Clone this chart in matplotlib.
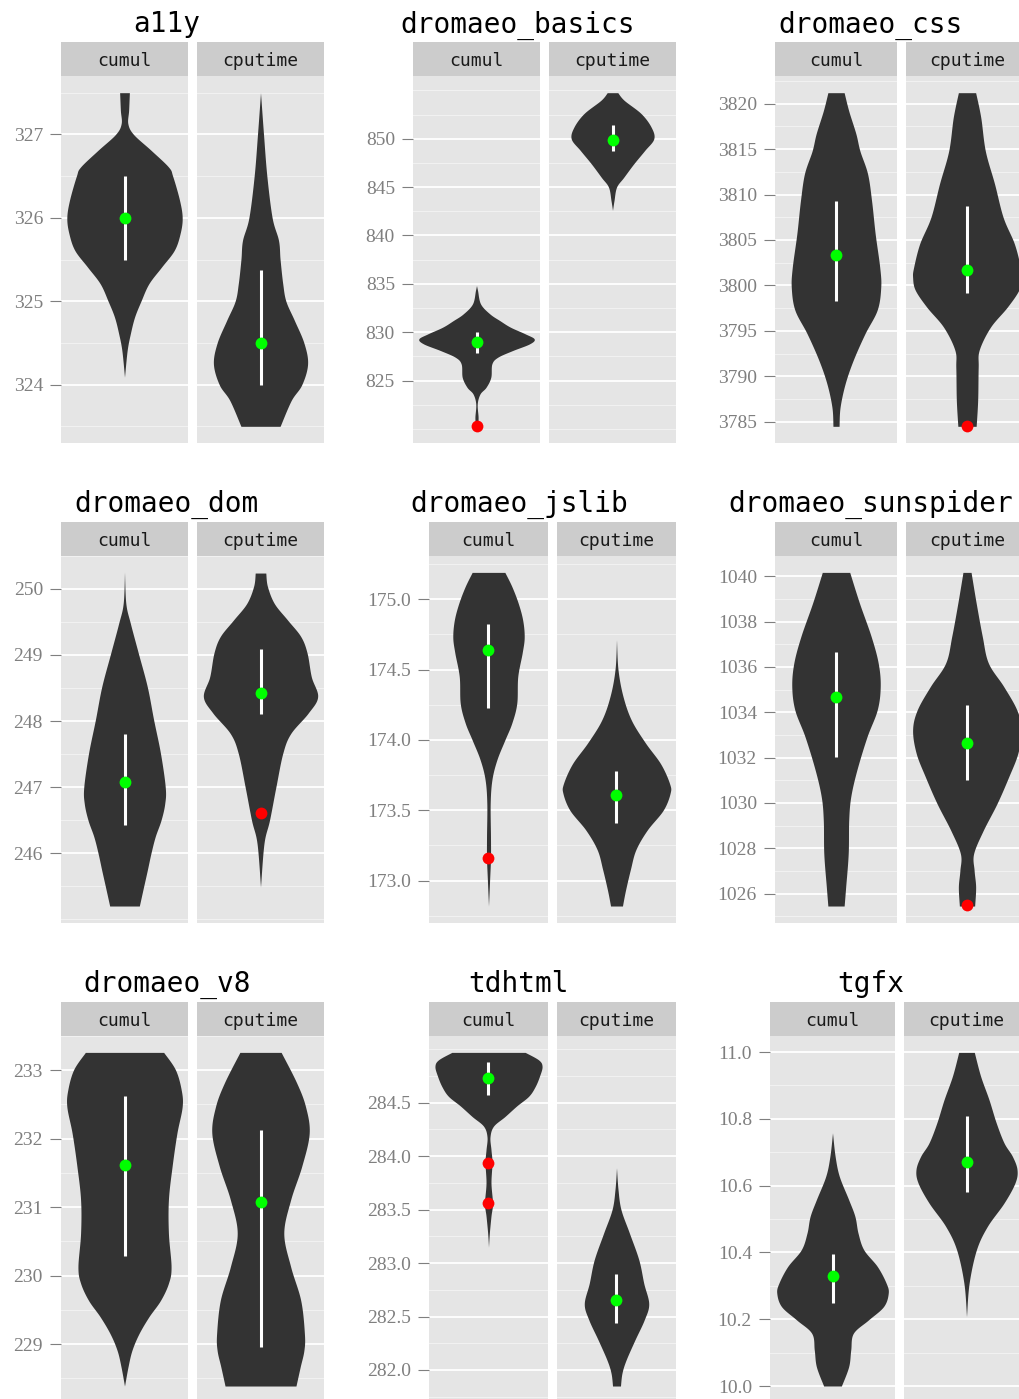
import numpy as np
import matplotlib
matplotlib.use("Agg")
import matplotlib.pyplot as plt

benchmarks = ["a11y", "dromaeo_basics", "dromaeo_css", "dromaeo_dom", "dromaeo_jslib",
              "dromaeo_sunspider", "dromaeo_v8", "tdhtml", "tgfx"]
metrics = ["cumul", "cputime"]

# ---- violin outlines: value levels and full violin width (category units) ----
a11y_cumul_y = [327.5, 327.29, 327.13, 327.0, 326.81, 326.61, 326.5, 326.21, 326.0, 325.81,
                325.61, 325.41, 325.21, 325.0, 324.81, 324.61, 324.41, 324.09]
a11y_cumul_w = [0.092, 0.078, 0.063, 0.17, 0.50, 0.83, 0.91, 1.04, 1.09, 1.05,
                0.94, 0.70, 0.46, 0.31, 0.19, 0.11, 0.05, 0.0]
a11y_cputime_y = [327.5, 327.0, 326.5, 326.0, 325.73, 325.5, 325.21, 325.0, 324.77, 324.5,
                  324.25, 324.0, 323.81, 323.5]
a11y_cputime_w = [0.0, 0.057, 0.12, 0.22, 0.34, 0.37, 0.42, 0.48, 0.64, 0.82,
                  0.89, 0.78, 0.58, 0.37]

basics_cumul_y = [834.83, 834.31, 832.93, 831.9, 831.2, 830.52, 829.83, 829.31, 828.79, 828.1,
                  827.41, 826.72, 825.34, 824.31, 823.62, 822.59, 821.21, 820.28]
basics_cumul_w = [0.0, 0.02, 0.076, 0.25, 0.44, 0.64, 0.92, 1.09, 1.0, 0.68,
                  0.40, 0.29, 0.27, 0.18, 0.066, 0.014, 0.03, 0.02]
basics_cputime_y = [854.76, 853.97, 852.6, 851.2, 850.0, 848.8, 847.4, 846.0, 845.0, 843.6, 842.6]
basics_cputime_w = [0.10, 0.22, 0.54, 0.73, 0.78, 0.61, 0.40, 0.21, 0.076, 0.028, 0.0]

css_cumul_y = [3821.2, 3819.2, 3816.7, 3814.8, 3812.3, 3809.3, 3805.7, 3802.0, 3799.8, 3797.3,
               3794.7, 3791.8, 3789.2, 3786.6, 3784.5]
css_cumul_w = [0.16, 0.25, 0.39, 0.47, 0.62, 0.70, 0.77, 0.86, 0.88, 0.81,
               0.57, 0.34, 0.18, 0.08, 0.06]
css_cputime_y = [3821.2, 3818.5, 3814.8, 3811.2, 3807.5, 3804.6, 3802.0, 3800.9, 3799.5, 3797.6,
                 3795.4, 3792.9, 3791.0, 3787.4, 3784.5]
css_cputime_w = [0.17, 0.27, 0.36, 0.54, 0.71, 0.93, 1.05, 1.07, 1.02, 0.79,
                 0.46, 0.24, 0.22, 0.21, 0.18]

dom_cumul_y = [250.25, 249.78, 249.48, 249.03, 248.52, 248.02, 247.51, 247.0, 246.75, 246.5,
               246.25, 246.0, 245.74, 245.49, 245.2]
dom_cumul_w = [0.0, 0.025, 0.11, 0.26, 0.43, 0.55, 0.68, 0.77, 0.76, 0.69,
               0.58, 0.50, 0.43, 0.36, 0.28]
dom_cputime_y = [250.24, 250.04, 249.78, 249.53, 249.28, 249.03, 248.67, 248.37, 248.12, 247.81,
                 247.51, 247.0, 246.5, 246.15, 245.49]
dom_cputime_w = [0.10, 0.13, 0.26, 0.51, 0.76, 0.88, 0.96, 1.08, 0.90, 0.57,
                 0.42, 0.29, 0.17, 0.066, 0.0]

jslib_cumul_y = [175.19, 175.09, 174.97, 174.85, 174.73, 174.62, 174.45, 174.26, 174.12, 174.0,
                 173.86, 173.72, 173.55, 173.31, 173.16, 173.01, 172.82]
jslib_cumul_w = [0.33, 0.47, 0.60, 0.69, 0.72, 0.68, 0.59, 0.57, 0.47, 0.33,
                 0.17, 0.07, 0.034, 0.04, 0.04, 0.023, 0.0]
jslib_cputime_y = [174.71, 174.50, 174.31, 174.14, 173.98, 173.83, 173.69, 173.62, 173.50, 173.36,
                   173.22, 173.08, 172.93, 172.82]
jslib_cputime_w = [0.0, 0.03, 0.13, 0.30, 0.58, 0.89, 1.07, 1.08, 0.94, 0.62,
                   0.39, 0.28, 0.18, 0.12]

sunspider_cumul_y = [1040.17, 1038.82, 1037.35, 1036.17, 1035.14, 1034.1, 1032.92, 1031.45,
                     1030.27, 1029.24, 1027.76, 1026.29, 1025.45]
sunspider_cumul_w = [0.27, 0.46, 0.69, 0.83, 0.87, 0.81, 0.61, 0.41,
                     0.29, 0.25, 0.24, 0.19, 0.16]
sunspider_cputime_y = [1040.17, 1038.82, 1037.35, 1036.17, 1035.14, 1034.1, 1033.22, 1032.19,
                       1031.15, 1029.97, 1028.79, 1027.76, 1027.02, 1026.29, 1025.45]
sunspider_cputime_w = [0.08, 0.18, 0.30, 0.42, 0.72, 0.98, 1.07, 1.00,
                       0.82, 0.59, 0.32, 0.13, 0.14, 0.17, 0.15]

v8_cumul_y = [233.26, 233.01, 232.72, 232.47, 232.08, 231.6, 231.11, 230.62, 230.13, 229.89,
              229.64, 229.4, 229.15, 228.91, 228.67, 228.39]
v8_cumul_w = [0.74, 0.96, 1.07, 1.09, 0.99, 0.90, 0.83, 0.83, 0.88, 0.83,
              0.68, 0.46, 0.27, 0.14, 0.066, 0.0]
v8_cputime_y = [233.26, 232.82, 232.47, 232.08, 231.6, 231.11, 230.62, 230.13, 229.64, 229.15,
                228.91, 228.67, 228.39]
v8_cputime_w = [0.39, 0.68, 0.85, 0.92, 0.78, 0.57, 0.44, 0.57, 0.76, 0.83,
                0.82, 0.75, 0.67]

tdhtml_cumul_y = [284.97, 284.9, 284.84, 284.75, 284.65, 284.56, 284.47, 284.37, 284.28, 284.18,
                  284.06, 283.94, 283.75, 283.56, 283.44, 283.28, 283.15]
tdhtml_cumul_w = [0.74, 1.01, 1.08, 1.03, 0.94, 0.81, 0.57, 0.33, 0.10, 0.03,
                  0.05, 0.07, 0.05, 0.08, 0.05, 0.017, 0.0]
tdhtml_cputime_y = [283.89, 283.69, 283.5, 283.28, 283.03, 282.81, 282.62, 282.47, 282.28, 282.09,
                    281.97, 281.85]
tdhtml_cputime_w = [0.0, 0.03, 0.09, 0.26, 0.45, 0.55, 0.65, 0.56, 0.37, 0.19, 0.11, 0.08]

tgfx_cumul_y = [10.758, 10.688, 10.628, 10.558, 10.508, 10.458, 10.408, 10.358, 10.308, 10.278,
                10.238, 10.198, 10.158, 10.108, 10.058, 10.0]
tgfx_cumul_w = [0.0, 0.05, 0.13, 0.31, 0.43, 0.49, 0.60, 0.86, 1.03, 1.07,
                0.98, 0.69, 0.40, 0.35, 0.31, 0.17]
tgfx_cputime_y = [10.999, 10.928, 10.858, 10.788, 10.728, 10.688, 10.648, 10.608, 10.548, 10.478,
                  10.408, 10.308, 10.208]
tgfx_cputime_w = [0.15, 0.27, 0.43, 0.57, 0.72, 0.88, 0.97, 0.93, 0.72, 0.40, 0.19, 0.05, 0.0]

# ---- summary marks ----
cumul_mid = [326.0, 829.03, 3803.4, 247.08, 174.64, 1034.65, 231.62, 284.73, 10.328]
cumul_lo = [325.5, 827.83, 3798.3, 246.43, 174.23, 1032.04, 230.29, 284.57, 10.25]
cumul_hi = [326.5, 830.0, 3809.3, 247.81, 174.82, 1036.65, 232.62, 284.88, 10.396]
cputime_mid = [324.5, 849.9, 3801.7, 248.42, 173.61, 1032.63, 231.07, 282.65, 10.67]
cputime_lo = [324.0, 848.7, 3799.2, 248.11, 173.41, 1031.0, 228.96, 282.44, 10.58]
cputime_hi = [325.38, 851.4, 3808.7, 249.09, 173.78, 1034.31, 232.13, 282.9, 10.81]
cumul_outliers = [[], [820.27], [], [], [173.16], [], [], [283.94, 283.56], []]
cputime_outliers = [[], [], [3784.5], [246.61], [], [1025.48], [], [], []]

# ---- y tick labels ----
ticks_a11y = ["324", "325", "326", "327"]
ticks_basics = ["825", "830", "835", "840", "845", "850"]
ticks_css = ["3785", "3790", "3795", "3800", "3805", "3810", "3815", "3820"]
ticks_dom = ["246", "247", "248", "249", "250"]
ticks_jslib = ["173.0", "173.5", "174.0", "174.5", "175.0"]
ticks_sunspider = ["1026", "1028", "1030", "1032", "1034", "1036", "1038", "1040"]
ticks_v8 = ["229", "230", "231", "232", "233"]
ticks_tdhtml = ["282.0", "282.5", "283.0", "283.5", "284.0", "284.5"]
ticks_tgfx = ["10.0", "10.2", "10.4", "10.6", "10.8", "11.0"]

profiles = [
    [(a11y_cumul_y, a11y_cumul_w), (a11y_cputime_y, a11y_cputime_w)],
    [(basics_cumul_y, basics_cumul_w), (basics_cputime_y, basics_cputime_w)],
    [(css_cumul_y, css_cumul_w), (css_cputime_y, css_cputime_w)],
    [(dom_cumul_y, dom_cumul_w), (dom_cputime_y, dom_cputime_w)],
    [(jslib_cumul_y, jslib_cumul_w), (jslib_cputime_y, jslib_cputime_w)],
    [(sunspider_cumul_y, sunspider_cumul_w), (sunspider_cputime_y, sunspider_cputime_w)],
    [(v8_cumul_y, v8_cumul_w), (v8_cputime_y, v8_cputime_w)],
    [(tdhtml_cumul_y, tdhtml_cumul_w), (tdhtml_cputime_y, tdhtml_cputime_w)],
    [(tgfx_cumul_y, tgfx_cumul_w), (tgfx_cputime_y, tgfx_cputime_w)],
]
tick_labels = [ticks_a11y, ticks_basics, ticks_css, ticks_dom, ticks_jslib,
               ticks_sunspider, ticks_v8, ticks_tdhtml, ticks_tgfx]
mids = [cumul_mid, cputime_mid]
los = [cumul_lo, cputime_lo]
his = [cumul_hi, cputime_hi]
outs = [cumul_outliers, cputime_outliers]


def smooth_outline(y, w, n=14):
    pts = np.column_stack([y, w]).astype(float)
    pts = pts[np.argsort(pts[:, 0])]
    P = np.vstack([pts[0], pts, pts[-1]])
    t = np.linspace(0, 1, n, endpoint=False)[:, None]
    out = []
    for i in range(1, len(P) - 2):
        p0, p1, p2, p3 = P[i - 1], P[i], P[i + 1], P[i + 2]
        c = 0.5 * (2 * p1 + (-p0 + p2) * t + (2 * p0 - 5 * p1 + 4 * p2 - p3) * t ** 2
                   + (-p0 + 3 * p1 - 3 * p2 + p3) * t ** 3)
        out.append(c)
    out.append(P[-2][None, :])
    res = np.vstack(out)
    res[:, 1] = np.clip(res[:, 1], 0, None)
    return res[:, 0], res[:, 1]


W, H = 1019, 1399
fig = plt.figure(figsize=(W / 100, H / 100), dpi=100)
fig.patch.set_facecolor("white")


def px_axes(x, y_top, w, h):
    return fig.add_axes([x / W, 1 - (y_top + h) / H, w / W, h / H])


strip_tops = [42, 521.7, 1001.7]
strip_h = 34
panel_h = 367
panel_cols = [(61, 127), (413, 127), (775, 122), (61, 127), (429, 119), (775, 122),
              (61, 127), (429, 119), (770, 125)]
title_x = [167, 518, 870, 167, 519, 871, 167, 518, 871]
gap = 9

GREY_TXT = "#7F7F7F"
mono = "DejaVu Sans Mono"
serif = "Liberation Serif"

for i, bench in enumerate(benchmarks):
    r = i // 3
    st = strip_tops[r]
    L, pw = panel_cols[i]
    labels = tick_labels[i]
    tvals = [float(s) for s in labels]
    step = tvals[1] - tvals[0]

    allv = []
    for (yy, ww) in profiles[i]:
        allv += list(yy)
    for o in outs:
        allv += list(o[i])
    dmin, dmax = min(allv), max(allv)
    ext = (dmax - dmin) * 0.05
    ylo, yhi = dmin - ext, dmax + ext

    fig.text(title_x[i] / W, 1 - (st - 9.5) / H, bench, ha="center", va="baseline",
             fontsize=20, family=mono, color="black")

    half = step / 2
    k0 = np.floor((ylo - tvals[0]) / half)
    k1 = np.ceil((yhi - tvals[0]) / half)
    lines = tvals[0] + np.arange(k0, k1 + 1) * half
    lines = [v for v in lines if ylo <= v <= yhi]

    for j, metric in enumerate(metrics):
        left = L + j * (pw + gap)
        sax = px_axes(left, st, pw, strip_h)
        sax.set_facecolor("#CCCCCC")
        sax.set_xticks([]); sax.set_yticks([])
        for s in sax.spines.values():
            s.set_visible(False)
        sax.text(0.5, 10 / strip_h, metric, ha="center", va="baseline",
                 transform=sax.transAxes, fontsize=13, family=mono, color="#1A1A1A")

        ax = px_axes(left, st + strip_h, pw, panel_h)
        ax.set_facecolor("#E5E5E5")
        for s in ax.spines.values():
            s.set_visible(False)
        ax.set_xlim(0.4, 1.6)
        ax.set_ylim(ylo, yhi)
        ax.set_xticks([])

        for v in lines:
            is_major = any(abs(v - tv) < 1e-6 for tv in tvals)
            if is_major:
                ax.axhline(v, color="white", lw=1.3, zorder=0.6)
            else:
                ax.axhline(v, color="#F2F2F2", lw=0.7, zorder=0.5)

        yy, ww = profiles[i][j]
        sy, sw = smooth_outline(yy, ww)
        ax.fill_betweenx(sy, 1 - sw / 2, 1 + sw / 2, color="#333333", lw=0, zorder=2)

        ax.plot([1, 1], [los[j][i], his[j][i]], color="white", lw=2.2,
                solid_capstyle="butt", zorder=3)
        ax.plot([1], [mids[j][i]], "o", color="#00FF00", markersize=8.5,
                markeredgewidth=0, zorder=4)
        if outs[j][i]:
            ax.plot([1] * len(outs[j][i]), outs[j][i], "o", color="#FF0000",
                    markersize=8.5, markeredgewidth=0, zorder=4)

        if j == 0:
            ax.set_yticks(tvals)
            ax.set_yticklabels(labels, family=serif, fontsize=14, color=GREY_TXT)
            ax.tick_params(axis="y", length=8, width=0.8, color=GREY_TXT, pad=5)
        else:
            ax.set_yticks([])

fig.savefig("out.png", dpi=100, facecolor="white")
